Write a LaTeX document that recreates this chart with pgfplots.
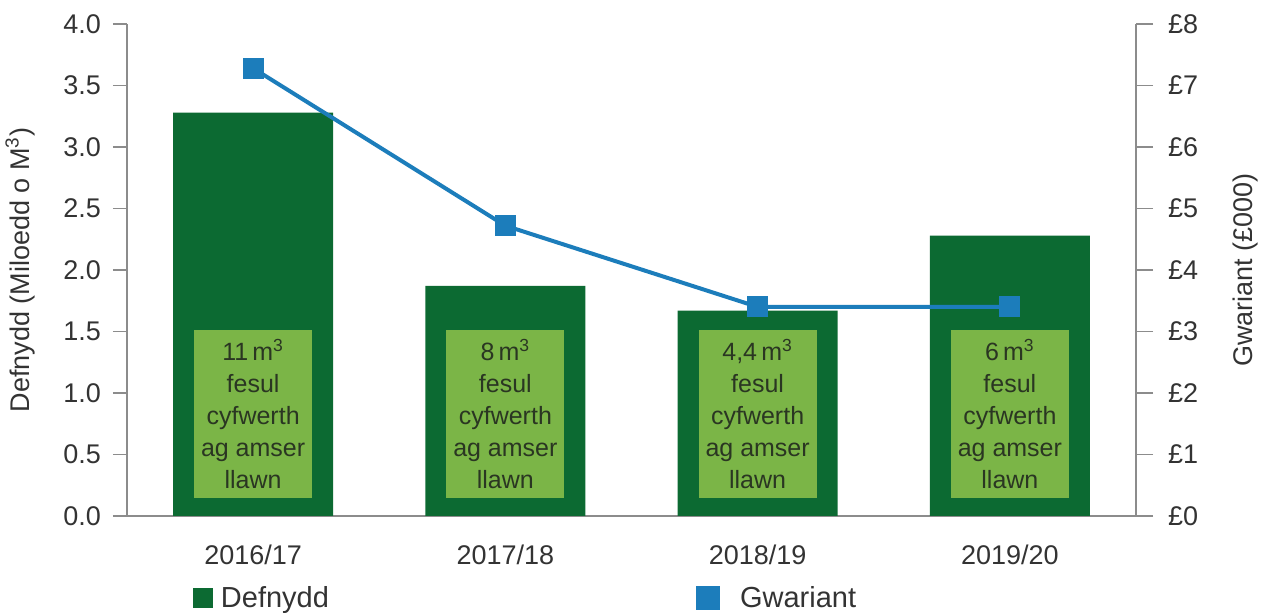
\documentclass[border=0pt]{standalone}
\usepackage{pgfplots}
\pgfplotsset{compat=1.18}
\usepackage{fontspec}
\setmainfont{Liberation Sans}
\definecolor{dgreen}{HTML}{0C6A32}
\definecolor{lgreen}{HTML}{7BB547}
\definecolor{lblue}{HTML}{1C7DBB}
\definecolor{axgray}{HTML}{8C8C8C}
\definecolor{txt}{HTML}{333333}
\definecolor{boxtxt}{HTML}{2A3622}
\begin{document}
\begin{tikzpicture}[x=1pt,y=1pt]
\path[use as bounding box] (-63.5,-49) rectangle (570,258);
\pgfplotsset{
  common/.style={
    scale only axis, width=504.5pt, height=246pt,
    xmin=-0.5, xmax=3.5,
    axis line style={axgray, line width=0.8pt},
    tick style={axgray, line width=0.8pt},
    tick align=outside,
    major tick length=7pt,
    ticklabel style={font=\fontsize{13.5}{16}\selectfont, text=txt},
    label style={font=\fontsize{13.5}{16}\selectfont, text=txt},
    /pgf/number format/assume math mode=true,
    legend style={draw=none, fill=none, inner sep=0pt, outer sep=0pt, font=\fontsize{14.5}{16}\selectfont, text=txt, anchor=west},
  }
}
\begin{axis}[common,
  ymin=0, ymax=4,
  axis x line*=bottom, axis y line*=left,
  xtick={0,1,2,3},
  xticklabels={2016/17,2017/18,2018/19,2019/20},
  x tick style={draw=none},
  minor xtick={0.5,1.5,2.5},
  minor x tick style={axgray, line width=0.8pt},
  minor tick length=3pt,
  xticklabel style={yshift=-4pt},
  ytick={0,0.5,...,4},
  yticklabel style={xshift=-2.5pt, /pgf/number format/.cd, fixed, fixed zerofill, precision=1},
  ylabel={Defnydd (Miloedd o M\textsuperscript{3})},
  ylabel style={at={(axis description cs:0,0.5)}, yshift=53.5pt, anchor=center},
  legend style={at={(axis description cs:0.0654,-0.1667)}},
]
\addplot[ybar, bar width=80pt, fill=dgreen, draw=none,
  legend image code/.code={\fill[dgreen] (0pt,-5pt) rectangle (10pt,5pt);}]
  coordinates {(0,3.28) (1,1.87) (2,1.67) (3,2.28)};
\addlegendentry{\hspace{2pt}Defnydd}
\foreach \i/\v in {0/11,1/8,2/{4,4},3/6}{
  \edef\tmp{\noexpand\node[fill=lgreen, minimum width=59pt, minimum height=84pt, inner sep=0pt, align=center,
    font=\noexpand\fontsize{12.5}{16}\noexpand\selectfont, text=boxtxt]
    at (axis cs:\i,0.828) {\v\noexpand\,m\noexpand\textsuperscript{3}\noexpand\\fesul\noexpand\\cyfwerth\noexpand\\ag amser\noexpand\\llawn};}
  \tmp
}
\end{axis}
\begin{axis}[common,
  ymin=0, ymax=8,
  axis x line=none, axis y line*=right,
  major tick length=8.5pt,
  ytick={0,1,...,8},
  yticklabels={£0,£1,£2,£3,£4,£5,£6,£7,£8},
  yticklabel style={xshift=4pt},
  ylabel={Gwariant (£000)},
  ylabel style={at={(axis description cs:1,0.5)}, yshift=-54.5pt, anchor=center},
  legend style={at={(axis description cs:0.564,-0.1667)}},
]
\addplot[lblue, line width=2pt, mark=square*, mark size=4.2pt, mark options={fill=lblue, draw=lblue},
  legend image code/.code={\fill[lblue] (0pt,-5pt) rectangle (10pt,5pt);}]
  coordinates {(0,7.28) (1,4.72) (2,3.40) (3,3.40)};
\addlegendentry{\hspace{8pt}Gwariant}
\end{axis}
\end{tikzpicture}
\end{document}
